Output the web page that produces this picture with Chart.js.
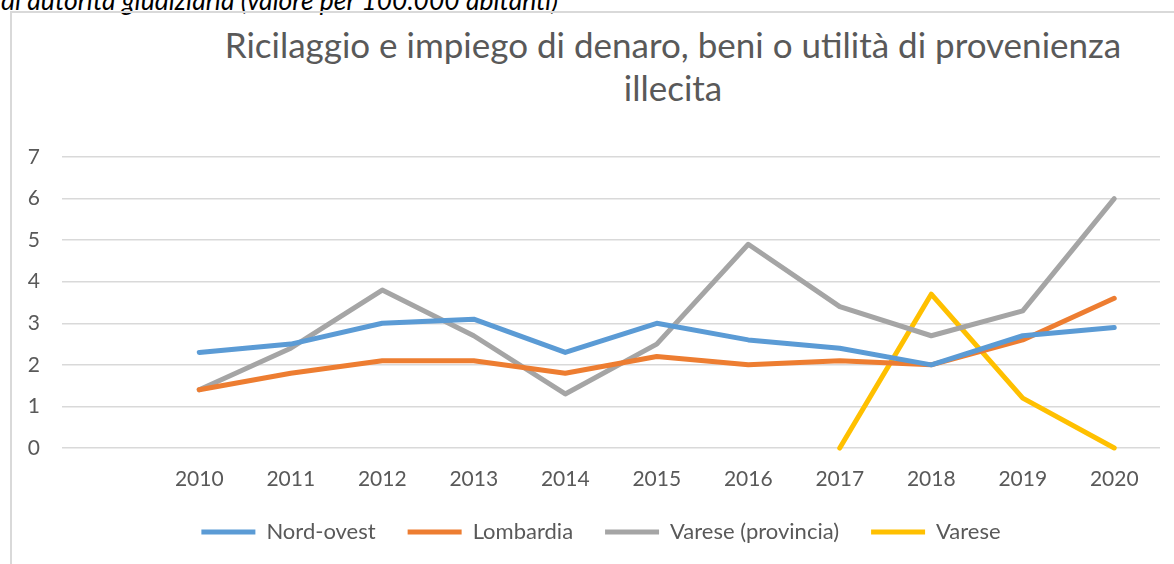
<!DOCTYPE html>
<html lang="it">
<head>
<meta charset="utf-8">
<script src="https://cdn.jsdelivr.net/npm/chart.js@4.4.1/dist/chart.umd.min.js"></script>
<style>
  html, body { margin: 0; padding: 0; background: #fff; }
  body { width: 1174px; height: 564px; position: relative; overflow: hidden; font-family: Lato, "Open Sans", sans-serif; }
  #note { position: absolute; left: 1px; top: -15px; font-style: italic; font-size: 26.5px; line-height: 1.2; color: #000; white-space: nowrap; }
  #frame { position: absolute; left: 10px; top: 11px; right: -5px; bottom: -5px; border-left: 2px solid #d9d9d9; border-top: 2px solid #d9d9d9; }
  #title { position: absolute; left: 173px; width: 1000px; top: 23px; text-align: center; font-size: 35px; line-height: 43px; color: #595959; }
  #wrap { position: absolute; left: 0; top: 0; width: 1174px; height: 564px; }
</style>
</head>
<body>
<div id="note">di autorità giudiziaria (valore per 100.000 abitanti)</div>
<div id="frame"></div>
<div id="title">Ricilaggio e impiego di denaro, beni o utilità di provenienza<br>illecita</div>
<div id="wrap"><canvas id="chart"></canvas></div>
<script>
// first category is left blank, as in the original sheet
const years = ['', '2010', '2011', '2012', '2013', '2014', '2015', '2016', '2017', '2018', '2019', '2020'];
const nordOvest = [null, 2.3, 2.5, 3.0, 3.1, 2.3, 3.0, 2.6, 2.4, 2.0, 2.7, 2.9];
const lombardia = [null, 1.4, 1.8, 2.1, 2.1, 1.8, 2.2, 2.0, 2.1, 2.0, 2.6, 3.6];
const vareseProvincia = [null, 1.4, 2.4, 3.8, 2.7, 1.3, 2.5, 4.9, 3.4, 2.7, 3.3, 6.0];
const vareseCitta = [null, null, null, null, null, null, null, null, 0, 3.7, 1.2, 0];
const yMin = 0;
const yMax = 7;

const textColor = '#595959';
const gridColor = '#d9d9d9';

function series(label, data, color) {
    return {
        label: label,
        data: data,
        borderColor: color,
        backgroundColor: color,
        borderWidth: 5,
        borderCapStyle: 'round',
        borderJoinStyle: 'round',
        pointRadius: 0,
        pointHoverRadius: 0,
        pointStyle: 'line',
        tension: 0,
        clip: false
    };
}

// nudge the legend a bit left, excel centres it slightly off the plot
const legendShift = {
    id: 'legendShift',
    afterLayout(chart) {
        chart.legend.left -= 10;
        chart.legend.right -= 10;
    }
};

new Chart(document.getElementById('chart'), {
    type: 'line',
    data: {
        labels: years,
        datasets: [
            series('Nord-ovest', nordOvest, '#5b9bd5'),
            series('Lombardia', lombardia, '#ed7d31'),
            series('Varese (provincia)', vareseProvincia, '#a5a5a5'),
            series('Varese', vareseCitta, '#ffc000')
        ]
    },
    plugins: [legendShift],
    options: {
        responsive: true,
        maintainAspectRatio: false,
        animation: false,
        events: [],
        layout: { padding: { left: 0, right: 14, top: 157, bottom: 11 } },
        scales: {
            x: {
                offset: true,
                afterFit: scale => { scale.height = 41; },
                grid: { display: false, drawTicks: false },
                border: { display: false },
                ticks: { color: textColor, font: { family: 'Lato', size: 21 }, padding: 19, maxRotation: 0, autoSkip: false }
            },
            y: {
                min: yMin,
                max: yMax,
                afterFit: scale => { scale.width = 62; },
                grid: { color: gridColor, lineWidth: 1.5, drawTicks: false },
                border: { display: false },
                ticks: { stepSize: 1, color: textColor, font: { family: 'Lato', size: 21 }, padding: 22 }
            }
        },
        plugins: {
            title: { display: false },
            tooltip: { enabled: false },
            legend: {
                position: 'bottom',
                fullSize: false,
                labels: {
                    usePointStyle: true,
                    pointStyleWidth: 54,
                    color: textColor,
                    font: { family: 'Lato', size: 22 },
                    padding: 32
                }
            }
        }
    }
});
</script>
</body>
</html>
